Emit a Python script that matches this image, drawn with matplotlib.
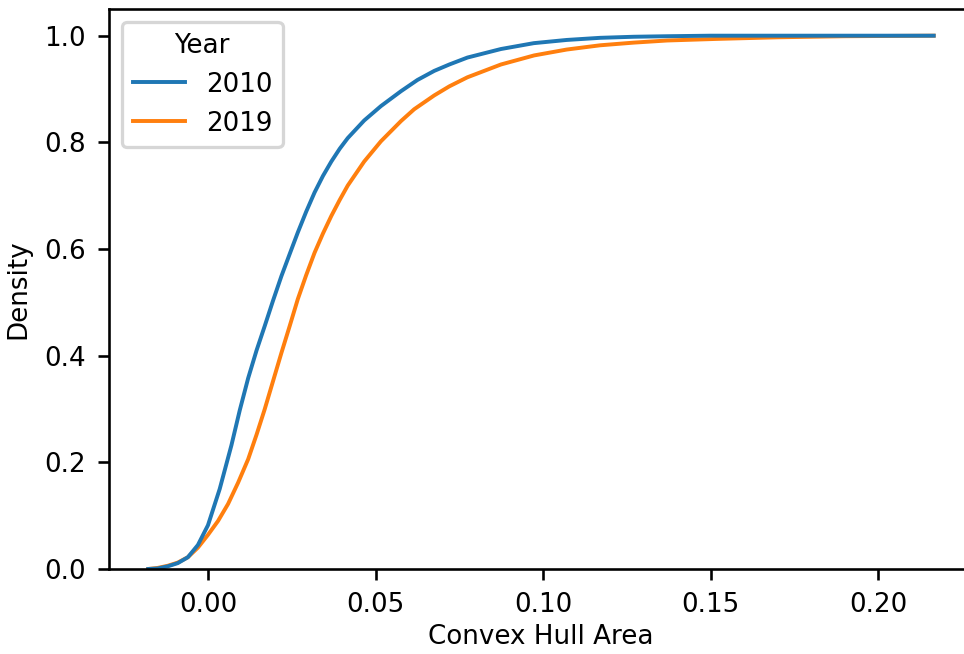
import matplotlib
matplotlib.use("Agg")
import matplotlib.pyplot as plt

# cumulative KDE of convex hull area, one curve per year
years = ["2010", "2019"]

area_2010 = [-0.0178, -0.015, -0.012, -0.009, -0.006, -0.003, 0.000, 0.0035,
             0.007, 0.0095, 0.012, 0.0145, 0.0169, 0.0194, 0.0219, 0.0244,
             0.0268, 0.0293, 0.0318, 0.0343, 0.0368, 0.0393, 0.0417, 0.0466,
             0.0516, 0.0576, 0.0625, 0.0675, 0.072, 0.0774, 0.0874, 0.0972,
             0.107, 0.117, 0.127, 0.137, 0.150, 0.170, 0.2165]
cdf_2010 = [0.000, 0.001, 0.005, 0.011, 0.022, 0.045, 0.082, 0.150,
            0.232, 0.298, 0.358, 0.410, 0.455, 0.503, 0.549, 0.591,
            0.631, 0.670, 0.706, 0.737, 0.764, 0.788, 0.808, 0.841,
            0.868, 0.896, 0.917, 0.934, 0.946, 0.959, 0.975, 0.986,
            0.992, 0.996, 0.998, 0.999, 1.000, 1.000, 1.000]

area_2019 = [-0.0178, -0.015, -0.012, -0.009, -0.006, -0.003, 0.000, 0.003,
             0.006, 0.009, 0.012, 0.0145, 0.0169, 0.0194, 0.0219, 0.0244,
             0.0268, 0.0293, 0.0318, 0.0343, 0.0368, 0.0393, 0.0417, 0.0466,
             0.0516, 0.0576, 0.0615, 0.0675, 0.072, 0.0774, 0.0874, 0.0973,
             0.107, 0.117, 0.127, 0.137, 0.152, 0.170, 0.190, 0.2165]
cdf_2019 = [0.000, 0.002, 0.006, 0.012, 0.022, 0.040, 0.064, 0.090,
            0.122, 0.162, 0.206, 0.252, 0.299, 0.352, 0.405, 0.456,
            0.506, 0.551, 0.593, 0.629, 0.662, 0.692, 0.719, 0.764,
            0.802, 0.840, 0.862, 0.888, 0.905, 0.922, 0.946, 0.963,
            0.974, 0.982, 0.987, 0.991, 0.994, 0.997, 0.999, 1.000]

DPI = 235
plt.rcParams["font.size"] = 8
fig = plt.figure(figsize=(964 / DPI, 654 / DPI), dpi=DPI)
ax = fig.add_axes([0.1131, 0.130, 0.8962, 0.8562])

# 2019 goes down first so 2010 sits on top, as seaborn does
l19, = ax.plot(area_2019, cdf_2019, color="#ff7f0e", lw=1.2)
l10, = ax.plot(area_2010, cdf_2010, color="#1f77b4", lw=1.2)

ax.set_ylim(bottom=0)
ax.set_xlabel("Convex Hull Area", labelpad=2)
ax.set_ylabel("Density")
ax.legend([l10, l19], years, title="Year", loc="upper left")

fig.savefig("out.png", dpi=DPI)
